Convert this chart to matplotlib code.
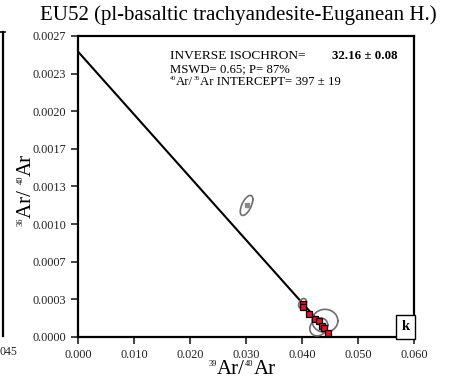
import numpy as np
import matplotlib
matplotlib.use("Agg")
import matplotlib.pyplot as plt
from matplotlib.lines import Line2D
from matplotlib.transforms import IdentityTransform

# isochrone inverse EU52 : points retenus (carrés rouges)
pts_x = [0.0401, 0.0402, 0.0413, 0.0424, 0.0430, 0.0436, 0.0440, 0.0447]
pts_y = [0.00030, 0.00027, 0.00021, 0.00016, 0.00014, 0.00010, 0.00008, 0.00004]

# point exclu du calcul
out_x = [0.0301]
out_y = [0.00118]

# ellipses d'erreur : centre, demi-axes et corrélation
ell_x = [0.0301, 0.0401, 0.0441, 0.0430]
ell_y = [0.00118, 0.00030, 0.000145, 0.00009]
ell_sx = [0.00112, 0.0007, 0.0023, 0.0016]
ell_sy = [0.00009, 0.000045, 0.000103, 0.00008]
ell_rho = [0.6, 0.3, 0.0, 0.2]

# droite d'isochrone
fit_y0 = 0.00256
fit_slope = -0.0563
fit_xmax = 0.0447

xticks = [0.000, 0.010, 0.020, 0.030, 0.040, 0.050, 0.060]
yticklabels = ["0.0000", "0.0003", "0.0007", "0.0010", "0.0013",
               "0.0017", "0.0020", "0.0023", "0.0027"]

plt.rcParams.update({
    "font.family": ["Liberation Serif", "DejaVu Serif"],
})

fig = plt.figure(figsize=(4.5, 3.8), dpi=100)
ax = fig.add_axes([0.1733, 0.1132, 0.7467, 0.7921])


def draw_pieces(x, y, pieces, rotation=0, ha="center"):
    """Texte composé de morceaux (exposants petits et surélevés), x/y en pixels."""
    renderer = fig.canvas.get_renderer()
    widths = []
    for txt, size, rise, weight in pieces:
        t = fig.text(0, 0, txt, fontsize=size, fontweight=weight)
        widths.append(t.get_window_extent(renderer).width)
        t.remove()
    pos = -sum(widths) / 2 if ha == "center" else 0.0
    ang = np.radians(rotation)
    d = np.array([np.cos(ang), np.sin(ang)])
    n = np.array([-np.sin(ang), np.cos(ang)])
    for (txt, size, rise, weight), w in zip(pieces, widths):
        p = np.array([x, y]) + d * pos + n * rise
        fig.text(p[0], p[1], txt, fontsize=size, fontweight=weight,
                 rotation=rotation, rotation_mode="anchor", ha="left",
                 va="baseline", transform=IdentityTransform())
        pos += w


xs = np.array([0.0, fit_xmax])
ax.plot(xs, fit_y0 + fit_slope * xs, color="black", lw=1.5, zorder=2)

t = np.linspace(0, 2 * np.pi, 200)
for cx, cy, sx, sy, r in zip(ell_x, ell_y, ell_sx, ell_sy, ell_rho):
    phi = np.arccos(r)
    ax.plot(cx + sx * np.cos(t), cy + sy * np.cos(t + phi),
            color="#6e6e6e", lw=1.2, zorder=3)

ax.plot(out_x, out_y, "s", ms=3, color="#8a8a8a", zorder=4)
ax.plot(pts_x, pts_y, "s", ms=5, mfc="#e8102a", mec="black", mew=0.9, zorder=5)

ax.set_xlim(0, 0.060)
ax.set_ylim(0, 0.0027)
ax.set_xticks(xticks)
ax.set_xticklabels([f"{v:.3f}" for v in xticks])
ax.set_yticks(np.linspace(0, 0.0027, len(yticklabels)))
ax.set_yticklabels(yticklabels)
ax.tick_params(direction="out", length=5, width=1.2, labelsize=8.8, colors="#222222")
for s in ax.spines.values():
    s.set_linewidth(1.6)

ax.text(0.0585, 0.00009, "k", fontsize=10.5, fontweight="bold", ha="center", va="center",
        bbox=dict(boxstyle="square,pad=0.35", fc="white", ec="black", lw=1))

# encart de résultats
draw_pieces(170, 321, [("INVERSE ISOCHRON=", 9.6, 0, "normal")], ha="left")
draw_pieces(332, 321, [("32.16 ± 0.08", 9.3, 0, "bold")], ha="left")
draw_pieces(170, 308, [("MSWD= 0.65; P= 87%", 9.2, 0, "normal")], ha="left")
draw_pieces(170, 295, [("40", 4.5, 4.5, "normal"), ("Ar/", 9.2, 0, "normal"),
                       ("36", 4.5, 4.5, "normal"),
                       ("Ar INTERCEPT= 397 ± 19", 9.2, 0, "normal")], ha="left")

fig.text(0.53, 0.96, "EU52 (pl-basaltic trachyandesite-Euganean H.)",
         fontsize=15, ha="center", va="center")

# titres des axes
draw_pieces(242, 6, [("39", 6, 8, "normal"), ("Ar/", 15, 0, "normal"),
                     ("40", 6, 8, "normal"), ("Ar", 15, 0, "normal")])
draw_pieces(31, 190, [("36", 6, 8, "normal"), ("Ar/ ", 15, 0, "normal"),
                      ("40", 6, 8, "normal"), ("Ar", 15, 0, "normal")], rotation=90)

# bord du panneau voisin
fig.add_artist(Line2D([0.007, 0.007], [0.115, 0.916], color="black", lw=1.6,
                      transform=fig.transFigure))
fig.add_artist(Line2D([0.0, 0.012], [0.916, 0.916], color="black", lw=1.2,
                      transform=fig.transFigure))
fig.text(0.0, 0.074, "045", fontsize=8.5, color="#222222", va="center")

fig.savefig("out.png", dpi=100)
